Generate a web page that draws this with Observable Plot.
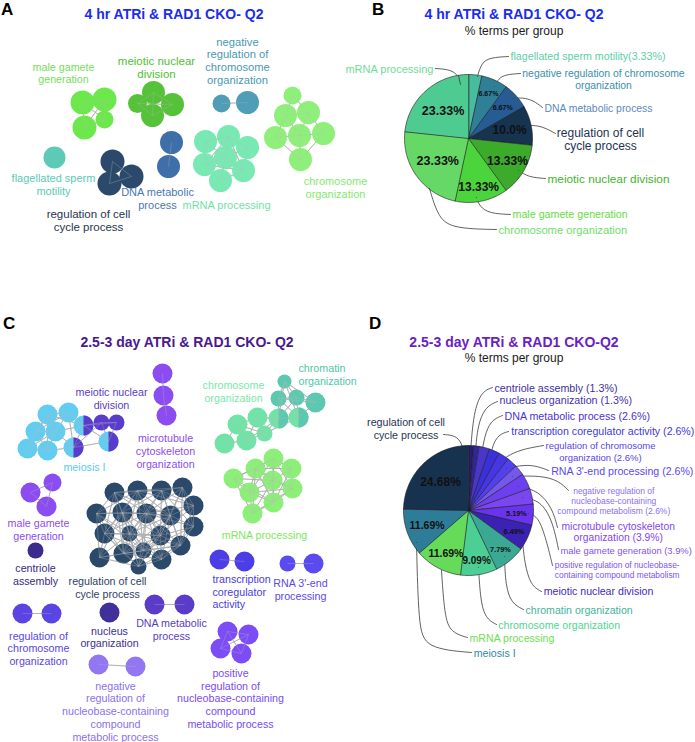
<!DOCTYPE html>
<html>
<head>
<meta charset="utf-8">
<script src="https://cdn.jsdelivr.net/npm/d3@7"></script>
<script src="https://cdn.jsdelivr.net/npm/@observablehq/plot@0.6"></script>
<style>
  html, body { margin: 0; padding: 0; background: #fff; }
  #fig { position: relative; width: 695px; height: 742px; overflow: hidden; background: #fff;
         font-family: "Liberation Sans", Arial, Helvetica, sans-serif; }
  .plotbox { position: absolute; }
  .plotbox svg { overflow: visible; display: block; }
  .t { position: absolute; white-space: nowrap; line-height: 1.1; }
  .letter { font-weight: bold; font-size: 17px; color: #000; }
  .title { font-weight: bold; font-size: 14px; transform: translateX(-50%); }
  .sub { font-size: 12px; color: #1a1a1a; transform: translateX(-50%); }
</style>
</head>
<body>
<div id="fig"></div>
<script>
// ======================= DATA =======================
// Panel A: enriched-term cluster network, 4 hr ATRi & RAD1 CKO- Q2 (terms per cluster)
const netAClusters = ["male gamete generation", "meiotic nuclear division", "negative regulation of chromosome organization",
  "chromosome organization", "mRNA processing", "DNA metabolic process", "regulation of cell cycle process", "flagellated sperm motility"];
const netATermCounts = [4, 4, 2, 7, 7, 2, 3, 1];
const netALabels = ["male gamete\ngeneration", "meiotic nuclear\ndivision", "negative\nregulation of\nchromosome\norganization",
  "chromosome\norganization", "mRNA processing", "DNA metabolic\nprocess", "regulation of cell\ncycle process", "flagellated sperm\nmotility"];

// Panel B: % terms per group
const pieBGroups = ["flagellated sperm motility", "negative regulation of chromosome organization", "DNA metabolic process",
  "regulation of cell cycle process", "meiotic nuclear division", "male gamete generation", "chromosome organization", "mRNA processing"];
const pieBPercents = [3.33, 6.67, 6.67, 10.0, 13.33, 13.33, 23.33, 23.33];
const pieBValueLabels = ["", "6.67%", "6.67%", "10.0%", "13.33%", "13.33%", "23.33%", "23.33%"];
const pieBGroupLabels = ["flagellated sperm motility(3.33%)", "negative regulation of chromosome\norganization", "DNA metabolic process",
  "regulation of cell\ncycle process", "meiotic nuclear division", "male gamete generation", "chromosome organization", "mRNA processing"];

// Panel C: enriched-term cluster network, 2.5-3 day ATRi & RAD1 CKO- Q2
const netCClusters = ["meiosis I", "meiotic nuclear division", "microtubule cytoskeleton organization", "chromosome organization",
  "chromatin organization", "mRNA processing", "male gamete generation", "regulation of cell cycle process", "centriole assembly",
  "transcription coregulator activity", "RNA 3'-end processing", "regulation of chromosome organization", "nucleus organization",
  "DNA metabolic process", "negative regulation of nucleobase-containing compound metabolic process",
  "positive regulation of nucleobase-containing compound metabolic process"];
const netCTermCounts = [9, 5, 3, 7, 6, 9, 3, 19, 1, 2, 2, 2, 1, 2, 2, 4];
const netCLabels = ["meiosis I", "meiotic nuclear\ndivision", "microtubule\ncytoskeleton\norganization", "chromosome\norganization",
  "chromatin\norganization", "mRNA processing", "male gamete\ngeneration", "regulation of cell\ncycle process", "centriole\nassembly",
  "transcription\ncoregulator\nactivity", "RNA 3'-end\nprocessing", "regulation of\nchromosome\norganization", "nucleus\norganization",
  "DNA metabolic\nprocess", "negative\nregulation of\nnucleobase-containing\ncompound\nmetabolic process",
  "positive\nregulation of\nnucleobase-containing\ncompound\nmetabolic process"];

// Panel D: % terms per group
const pieDGroups = ["centriole assembly", "nucleus organization", "DNA metabolic process", "transcription coregulator activity",
  "regulation of chromosome organization", "RNA 3'-end processing", "negative regulation of nucleobase-containing compound metabolism",
  "microtubule cytoskeleton organization", "male gamete generation", "positive regulation of nucleobase-containing compound metabolism",
  "meiotic nuclear division", "chromatin organization", "chromosome organization", "mRNA processing", "meiosis I", "regulation of cell cycle process"];
const pieDPercents = [1.3, 1.3, 2.6, 2.6, 2.6, 2.6, 2.6, 3.9, 3.9, 5.19, 6.49, 7.79, 9.09, 11.69, 11.69, 24.68];
const pieDValueLabels = ["", "", "", "", "", "", "", "", "", "5.19%", "6.49%", "7.79%", "9.09%", "11.69%", "11.69%", "24.68%"];
const pieDGroupLabels = ["centriole assembly (1.3%)", "nucleus organization (1.3%)", "DNA metabolic process (2.6%)",
  "transcription coregulator activity (2.6%)", "regulation of chromosome\norganization (2.6%)", "RNA 3'-end processing (2.6%)",
  "negative regulation of\nnucleobase-containing\ncompound metabolism (2.6%)", "microtubule cytoskeleton\norganization (3.9%)",
  "male gamete generation (3.9%)", "positive regulation of nucleobase-\ncontaining compound metabolism", "meiotic nuclear division",
  "chromatin organization", "chromosome organization", "mRNA processing", "meiosis I", "regulation of cell\ncycle process"];

// Headings
const headings = [
  {text: "A", cls: "letter", x: 1, y: 10},
  {text: "4 hr ATRi & RAD1 CKO- Q2", cls: "title", x: 174, y: 15, color: "#1b2cf0"},
  {text: "B", cls: "letter", x: 372, y: 10},
  {text: "4 hr ATRi & RAD1 CKO- Q2", cls: "title", x: 514, y: 15, color: "#1b2cf0"},
  {text: "% terms per group", cls: "sub", x: 514, y: 33},
  {text: "C", cls: "letter", x: 3, y: 324},
  {text: "2.5-3 day ATRi & RAD1 CKO- Q2", cls: "title", x: 187, y: 342.5, color: "#4b1890"},
  {text: "D", cls: "letter", x: 369, y: 324},
  {text: "2.5-3 day ATRi & RAD1 CKO-Q2", cls: "title", x: 514, y: 343, color: "#6a1ec6"},
  {text: "% terms per group", cls: "sub", x: 514, y: 360}
];

// ======================= LAYOUT & STYLE =======================
const FONT = '"Liberation Sans", Arial, Helvetica, sans-serif';
const panels = {
  A: {left: 0, top: 0, w: 350, h: 270},
  B: {left: 350, top: 0, w: 345, h: 270},
  C: {left: 0, top: 270, w: 350, h: 472},
  D: {left: 350, top: 270, w: 345, h: 472}
};

// node positions [x, y, radius] per cluster (network layout)
const nodeLayoutA = {
  "male gamete generation": [[82,102,12],[104,99,12],[84,127,12],[104,119,9]],
  "meiotic nuclear division": [[153,92,11.5],[137,103,9.5],[172,104,11.5],[152,115,11.5]],
  "negative regulation of chromosome organization": [[221,103,9],[247,102,11.5]],
  "chromosome organization": [[292,95,9],[285,115,11.5],[308,112,11.5],[275,137,11.5],[299,135,11.5],[323,133,11.5],[300,159,11.5]],
  "mRNA processing": [[205,141,11.5],[228,136,11.5],[247,147,11.5],[204,164,11.5],[225,157,11.5],[243,170,11.5],[220,180,11.5]],
  "DNA metabolic process": [[171,142,11.5],[168,166,11.5]],
  "regulation of cell cycle process": [[112,161,12],[131,176,12],[109,183,12]],
  "flagellated sperm motility": [[54,157,11]]
};
const nodeColorsA = {
  "male gamete generation": "#6ce84c", "meiotic nuclear division": "#55c23a",
  "negative regulation of chromosome organization": "#4f9db6", "chromosome organization": "#8ef07a",
  "mRNA processing": "#78e9b2", "DNA metabolic process": "#3f6fa8",
  "regulation of cell cycle process": "#2b4a6b", "flagellated sperm motility": "#5ccab6"
};
const labelLayoutA = [
  {x: 63, y: 72.5, size: 10.7, lh: 1.19, color: "#74e05a"},
  {x: 156, y: 67, size: 11.5, lh: 1.07, color: "#4fbf36"},
  {x: 237, y: 60, size: 11.2, lh: 1.13, color: "#4a98b2"},
  {x: 335, y: 186.5, size: 11, lh: 1.18, color: "#86e870"},
  {x: 226, y: 204, size: 11, lh: 1.18, color: "#72dfa6"},
  {x: 157, y: 198, size: 11, lh: 1.12, color: "#4a78b0"},
  {x: 88, y: 220, size: 11.5, lh: 1.13, color: "#1f3552"},
  {x: 53, y: 183.5, size: 11, lh: 1.18, color: "#5ccab6"}
];
const edgeReachA = {default: 40};

const nodeLayoutC = {
  "meiosis I": [[47,414,10],[68,412,10],[35,431,10],[55,431,10],[27,448,10],[47,450,10],[83,425,10],[73,447,10],[108,441,10]],
  "meiotic nuclear division": [[101,422,8],[116,422,8],[83,425,10],[73,447,10],[108,441,10]],
  "microtubule cytoskeleton organization": [[162,373,10],[163,395,10],[166,415,10]],
  "chromosome organization": [[257,417,10],[237,424,10],[224,443,10],[246,440,10],[264,433,8],[278,418,10],[298,417,10]],
  "chromatin organization": [[284,381,7],[278,398,8],[296,397,8],[315,402,10],[278,418,10],[298,417,10]],
  "mRNA processing": [[273,458,10],[255,468,10],[291,468,10],[233,478,10],[272,480,10],[292,488,10],[249,492,10],[273,502,10],[252,513,10]],
  "male gamete generation": [[52,482,9],[30,492,10],[46,506,10]],
  "regulation of cell cycle process": [[114,492,10],[137,490,10],[161,490,10],[182,487,10],[193,505,10],[96,513,10],[122,512,10],
    [146,513,10],[170,515,10],[193,526,10],[104,533,10],[129,533,8],[160,535,10],[180,545,10],[99,557,10],[123,553,10],[143,550,8],
    [161,559,10],[138,566,8]],
  "centriole assembly": [[35,550,8]],
  "transcription coregulator activity": [[219,559,10],[244,561,10]],
  "RNA 3'-end processing": [[287,563,8],[313,563,10]],
  "regulation of chromosome organization": [[22,613,10],[51,613,10]],
  "nucleus organization": [[109,612,10]],
  "DNA metabolic process": [[154,604,10],[184,604,10]],
  "negative regulation of nucleobase-containing compound metabolic process": [[98,664,10],[135,666,10]],
  "positive regulation of nucleobase-containing compound metabolic process": [[227,631,10],[248,634,10],[220,648,10],[241,653,10]]
};
const nodeColorsC = {
  "meiosis I": "#62cdf0", "meiotic nuclear division": "#5a3ccc", "microtubule cytoskeleton organization": "#8b4df2",
  "chromosome organization": "#72e3a6", "chromatin organization": "#5cc8b0", "mRNA processing": "#8cef78",
  "male gamete generation": "#8b4df2", "regulation of cell cycle process": "#2b4a6b", "centriole assembly": "#3d2a8e",
  "transcription coregulator activity": "#4b3ee6", "RNA 3'-end processing": "#5a4af2",
  "regulation of chromosome organization": "#5a44e4", "nucleus organization": "#40309a", "DNA metabolic process": "#5a3cc8",
  "negative regulation of nucleobase-containing compound metabolic process": "#9276f2",
  "positive regulation of nucleobase-containing compound metabolic process": "#7c4cf6"
};
const labelLayoutC = [
  {x: 84, y: 466, size: 10.7, lh: 1.18, color: "#5ccaf0"},
  {x: 111, y: 397.5, size: 10.7, lh: 1.2, color: "#5a3ccc"},
  {x: 165, y: 450.5, size: 10.7, lh: 1.2, color: "#8b4df2"},
  {x: 233, y: 391, size: 10.7, lh: 1.17, color: "#7ae8a8"},
  {x: 298, y: 373.7, size: 10.7, lh: 1.19, color: "#4fc6a8", anchor: "start"},
  {x: 264, y: 534.3, size: 10.7, lh: 1.18, color: "#80e860"},
  {x: 38, y: 528.7, size: 10.7, lh: 1.18, color: "#8b4df2"},
  {x: 107, y: 587.2, size: 10.7, lh: 1.2, color: "#2f3f64"},
  {x: 35, y: 574, size: 10.7, lh: 1.18, color: "#3b2a80"},
  {x: 212, y: 591, size: 10.7, lh: 1.19, color: "#4a3ce0", anchor: "start"},
  {x: 300, y: 589, size: 10.7, lh: 1.25, color: "#5a48f0"},
  {x: 38, y: 647.7, size: 10.7, lh: 1.19, color: "#5a46e0"},
  {x: 109, y: 636.3, size: 10.7, lh: 1.19, color: "#3d2f8f"},
  {x: 171, y: 628.7, size: 10.7, lh: 1.19, color: "#5a3cc8"},
  {x: 115, y: 710.5, size: 10.7, lh: 1.19, color: "#8a70f0"},
  {x: 230, y: 697.8, size: 10.7, lh: 1.19, color: "#7a4cf5"}
];
const edgeReachC = {default: 40, "regulation of cell cycle process": 62, "mRNA processing": 48};

// pies
const pieBGeom = {cx: 468, cy: 138, r: 64};
const pieBColors = ["#47bc9e", "#2f8097", "#265b94", "#163350", "#3caa2a", "#4cd43c", "#66d865", "#4ecb91"];
const pieBValueStyle = {radius: [0, 49, 46, 42, 45, 49, 38, 38], size: [0, 7, 7, 12, 12, 12, 12.5, 12.5]};
const pieBLabelLayout = [
  {x: 510, y: 56, size: 10.7, color: "#5ccfa6", anchor: "start"},
  {x: 603, y: 79, size: 10.4, lh: 1.15, color: "#3a8fac"},
  {x: 544, y: 108, size: 10.4, color: "#5a88c2", anchor: "start"},
  {x: 600, y: 138.5, size: 12, lh: 1.08, color: "#1d3450"},
  {x: 547, y: 178, size: 11.8, color: "#3fb52c", anchor: "start"},
  {x: 512, y: 214, size: 10.7, color: "#66dd44", anchor: "start"},
  {x: 498, y: 229, size: 11.2, color: "#6ee06a", anchor: "start"},
  {x: 433, y: 68, size: 11, color: "#6fdc9a", anchor: "end"}
];
const pieBLeaders = [
  [[508,56],[490,57],[481,62],[477,76]],
  [[520,73],[505,74],[498,78],[494,86]],
  [[542,107],[533,100],[522,97],[513,98]],
  [[555,133],[546,128],[537,125],[528,125]],
  [[545,178],[532,177],[524,174],[518,170]],
  [[510,214],[489,213],[479,206],[476,197]],
  [[496,229],[450,228],[437,215],[429,188]],
  [[435,68],[450,69],[458,75],[460,84]]
];

const pieDGeom = {cx: 468, cy: 510, r: 65};
const pieDColors = ["#261c70", "#33269a", "#4a36c8", "#3a30dc", "#4636e6", "#5040ee", "#7458ea", "#6c40ee", "#7a46f0",
  "#6a34ee", "#3a22b2", "#3aa892", "#4ccf94", "#66db5a", "#2e7d98", "#17324f"];
const pieDValueStyle = {
  radius: [0, 0, 0, 0, 0, 0, 0, 0, 0, 48, 50, 50, 50, 48, 44, 40],
  size: [0, 0, 0, 0, 0, 0, 0, 0, 0, 7.3, 7.3, 7.3, 10, 10.5, 10.5, 12]
};
const pieDLabelLayout = [
  {x: 494, y: 387.3, size: 10.7, color: "#4030a0", anchor: "start"},
  {x: 499, y: 400, size: 10.7, color: "#4434ac", anchor: "start"},
  {x: 504, y: 415.7, size: 10.7, color: "#4b32d6", anchor: "start"},
  {x: 510.7, y: 430.7, size: 10.6, color: "#3d3ae6", anchor: "start"},
  {x: 600, y: 451, size: 9.5, lh: 1.23, color: "#5a44e8"},
  {x: 550.7, y: 470.7, size: 10.6, color: "#5a48f2", anchor: "start"},
  {x: 613.3, y: 500.7, size: 8.5, lh: 1.18, color: "#8a70f2"},
  {x: 617.7, y: 531.5, size: 10.3, lh: 1.06, color: "#8446f2"},
  {x: 560, y: 550.5, size: 9.4, color: "#8452f2", anchor: "start"},
  {x: 554.3, y: 569, size: 8.4, lh: 1.19, color: "#7c54f6", anchor: "start"},
  {x: 543.3, y: 591, size: 10.6, color: "#4228c4", anchor: "start"},
  {x: 525, y: 609.3, size: 10.6, color: "#44b49c", anchor: "start"},
  {x: 497.7, y: 624.3, size: 10.6, color: "#52d494", anchor: "start"},
  {x: 469, y: 637.3, size: 10.6, color: "#6ee052", anchor: "start"},
  {x: 473.3, y: 652.3, size: 10.6, color: "#3089ab", anchor: "start"},
  {x: 405.5, y: 428, size: 10.7, lh: 1.18, color: "#1f3553"}
];
const pieDLeaders = [
  [[492,387],[481,391],[473,412],[470,452]],
  [[497,401],[485,406],[477,425],[475,452]],
  [[502,415],[490,420],[484,436],[481,454]],
  [[508,431],[498,434],[492,445],[490,457]],
  [[543,445],[520,449],[506,456],[499,462]],
  [[548,470],[538,466],[524,464],[506,468]],
  [[568,490],[558,480],[540,475],[512,476]],
  [[557,527],[552,508],[538,490],[518,486]],
  [[558,549],[552,520],[540,500],[522,497]],
  [[552,565],[546,540],[538,516],[528,513]],
  [[541,591],[530,585],[524,562],[522,540]],
  [[523,609],[511,603],[505,585],[504,556]],
  [[496,624],[485,618],[480,600],[478,567]],
  [[467,637],[450,632],[444,615],[441,570]],
  [[471,652],[425,648],[418,625],[416,542]],
  [[443,434],[455,435],[461,442],[463,452]]
];

// ======================= BUILDERS =======================
function buildNetwork(clusters, counts, layout, colors, reach) {
  const byKey = new Map(), nodes = [];
  clusters.forEach((c, ci) => {
    const pos = layout[c];
    for (let j = 0; j < counts[ci]; j++) {
      const [x, y, r] = pos[j];
      const key = x + "," + y;
      let n = byKey.get(key);
      if (!n) { n = {x, y, r, clusters: []}; byKey.set(key, n); nodes.push(n); }
      n.clusters.push(c);
    }
  });
  nodes.forEach(n => { n.fill = colors[n.clusters[0]]; });
  const halves = [];
  nodes.filter(n => n.clusters.length > 1).forEach((n, k) => {
    const fill = colors[n.clusters[1]];
    for (let s = 0; s <= 24; s++) {
      const t = -Math.PI / 2 + Math.PI * s / 24;
      halves.push({id: k, x: n.x + n.r * Math.cos(t), y: n.y + n.r * Math.sin(t), fill});
    }
  });
  const edges = [], seen = new Set();
  clusters.forEach(c => {
    const members = nodes.filter(n => n.clusters.includes(c));
    const lim = reach[c] ?? reach.default;
    for (let i = 0; i < members.length; i++) for (let j = i + 1; j < members.length; j++) {
      const a = members[i], b = members[j];
      const d = Math.hypot(a.x - b.x, a.y - b.y);
      const key = nodes.indexOf(a) + "-" + nodes.indexOf(b);
      if (d < lim && !seen.has(key)) { seen.add(key); edges.push({x1: a.x, y1: a.y, x2: b.x, y2: b.y}); }
    }
  });
  return {nodes, halves, edges};
}

function buildPie(values, colors, g) {
  const arcs = d3.pie().sort(null).value(d => d)(values);
  const pts = [];
  arcs.forEach((a, i) => {
    pts.push({i, x: g.cx, y: g.cy, fill: colors[i]});
    const n = Math.max(2, Math.ceil((a.endAngle - a.startAngle) / 0.02));
    for (let k = 0; k <= n; k++) {
      const t = a.startAngle + (a.endAngle - a.startAngle) * k / n;
      pts.push({i, x: g.cx + g.r * Math.sin(t), y: g.cy - g.r * Math.cos(t), fill: colors[i]});
    }
  });
  return {arcs, pts};
}

function textMark(d, extra = {}) {
  return Plot.text([d], {
    x: "x", y: "y", text: "text", fill: d.color || "#111",
    fontSize: d.size, lineHeight: d.lh || 1.15, textAnchor: d.anchor || "middle",
    lineAnchor: "middle", fontWeight: d.weight || "normal", ...extra
  });
}

function makePlot(p, marks) {
  return Plot.plot({
    width: p.w, height: p.h, margin: 0,
    x: {domain: [p.left, p.left + p.w], range: [0, p.w], axis: null},
    y: {domain: [p.top, p.top + p.h], range: [0, p.h], axis: null},
    r: {type: "identity"},
    color: {type: "identity"},
    style: {overflow: "visible", background: "transparent", fontFamily: FONT},
    marks
  });
}

function networkMarks(net, clusters, labels, labelLayout) {
  return [
    Plot.link(net.edges, {x1: "x1", y1: "y1", x2: "x2", y2: "y2", stroke: "#9c9c9c", strokeWidth: 0.8}),
    Plot.dot(net.nodes, {x: "x", y: "y", r: "r", fill: "fill"}),
    Plot.line(net.halves, {x: "x", y: "y", z: "id", fill: "fill", stroke: "none", curve: "linear-closed"}),
    Plot.link(net.edges, {x1: "x1", y1: "y1", x2: "x2", y2: "y2", stroke: "#b8b8b8", strokeWidth: 0.7, strokeOpacity: 0.45}),
    ...clusters.map((c, i) => textMark({...labelLayout[i], text: labels[i]}))
  ];
}

function pieMarks(pie, geom, valueLabels, valueStyle, groupLabels, labelLayout, leaders) {
  const leaderPts = [];
  leaders.forEach((pts, i) => pts.forEach(([x, y]) => leaderPts.push({i, x, y})));
  const vals = [];
  pie.arcs.forEach((a, i) => {
    if (!valueLabels[i]) return;
    const m = (a.startAngle + a.endAngle) / 2, rr = valueStyle.radius[i];
    vals.push({x: geom.cx + rr * Math.sin(m), y: geom.cy - rr * Math.cos(m), text: valueLabels[i], size: valueStyle.size[i], weight: "bold", color: "#111"});
  });
  return [
    Plot.line(leaderPts, {x: "x", y: "y", z: "i", stroke: "#3a3a3a", strokeWidth: 0.8, curve: "basis"}),
    Plot.line(pie.pts, {x: "x", y: "y", z: "i", fill: "fill", stroke: "#1a1a1a", strokeWidth: 0.6, curve: "linear-closed"}),
    Plot.line(leaderPts.filter(d => Math.hypot(d.x - geom.cx, d.y - geom.cy) < geom.r), {x: "x", y: "y", z: "i", stroke: "#3a3a3a", strokeWidth: 0.8, curve: "basis"}),
    ...vals.map(v => textMark(v)),
    ...groupLabels.map((t, i) => textMark({...labelLayout[i], text: t}))
  ];
}

// ======================= RENDER =======================
const fig = document.getElementById("fig");
function place(p, svg) {
  const box = document.createElement("div");
  box.className = "plotbox";
  box.style.left = p.left + "px"; box.style.top = p.top + "px";
  box.style.width = p.w + "px"; box.style.height = p.h + "px";
  box.appendChild(svg);
  fig.appendChild(box);
}

const netA = buildNetwork(netAClusters, netATermCounts, nodeLayoutA, nodeColorsA, edgeReachA);
place(panels.A, makePlot(panels.A, networkMarks(netA, netAClusters, netALabels, labelLayoutA)));

const pieB = buildPie(pieBPercents, pieBColors, pieBGeom);
place(panels.B, makePlot(panels.B, pieMarks(pieB, pieBGeom, pieBValueLabels, pieBValueStyle, pieBGroupLabels, pieBLabelLayout, pieBLeaders)));

const netC = buildNetwork(netCClusters, netCTermCounts, nodeLayoutC, nodeColorsC, edgeReachC);
place(panels.C, makePlot(panels.C, networkMarks(netC, netCClusters, netCLabels, labelLayoutC)));

const pieD = buildPie(pieDPercents, pieDColors, pieDGeom);
place(panels.D, makePlot(panels.D, pieMarks(pieD, pieDGeom, pieDValueLabels, pieDValueStyle, pieDGroupLabels, pieDLabelLayout, pieDLeaders)));

headings.forEach(h => {
  const el = document.createElement("div");
  el.className = "t " + h.cls;
  el.textContent = h.text;
  const size = h.cls === "letter" ? 17 : h.cls === "title" ? 14 : 12;
  const k = h.cls === "sub" ? 0.64 : 0.54;
  el.style.left = h.x + "px";
  el.style.top = Math.max(0, h.y - k * size) + "px";
  if (h.color) el.style.color = h.color;
  fig.appendChild(el);
});
</script>
</body>
</html>
